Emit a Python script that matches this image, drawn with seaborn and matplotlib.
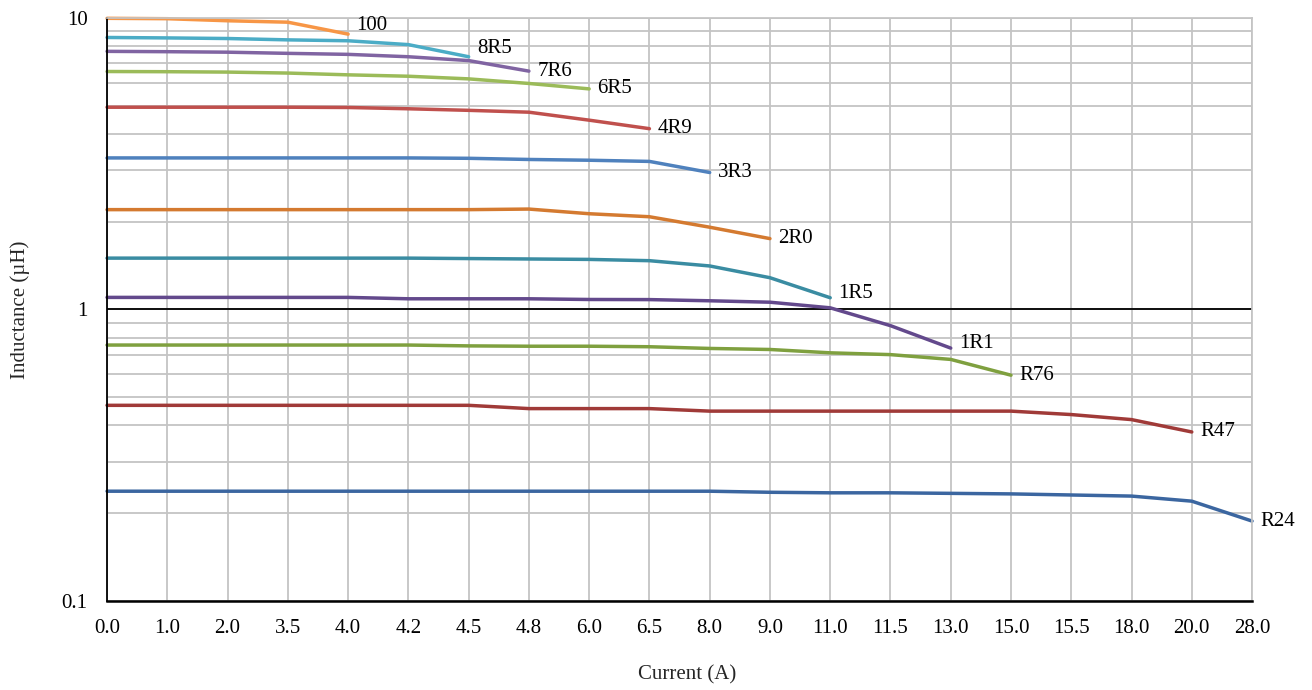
import numpy as np
import pandas as pd
import matplotlib
matplotlib.use('Agg')
import matplotlib.pyplot as plt
from matplotlib.ticker import LogLocator, FixedLocator, NullFormatter
import seaborn as sns

# x axis is categorical (evenly spaced currents)
current = ['0.0', '1.0', '2.0', '3.5', '4.0', '4.2', '4.5', '4.8', '6.0', '6.5',
           '8.0', '9.0', '11.0', '11.5', '13.0', '15.0', '15.5', '18.0', '20.0', '28.0']

# inductance (uH) per part, starting at 0.0 A
L_100 = [9.97, 9.94, 9.78, 9.67, 8.80]
L_8R5 = [8.57, 8.54, 8.50, 8.41, 8.35, 8.10, 7.36]
L_7R6 = [7.68, 7.66, 7.63, 7.56, 7.50, 7.36, 7.14, 6.57]
L_6R5 = [6.55, 6.54, 6.52, 6.47, 6.38, 6.31, 6.18, 5.96, 5.71]
L_4R9 = [4.94, 4.94, 4.94, 4.94, 4.93, 4.88, 4.82, 4.75, 4.46, 4.17]
L_3R3 = [3.31, 3.31, 3.31, 3.31, 3.31, 3.31, 3.30, 3.27, 3.25, 3.22, 2.95]
L_2R0 = [2.20, 2.20, 2.20, 2.20, 2.20, 2.20, 2.20, 2.21, 2.13, 2.08, 1.915, 1.75]
L_1R5 = [1.50, 1.50, 1.50, 1.50, 1.50, 1.50, 1.495, 1.49, 1.485, 1.47, 1.41, 1.285, 1.097]
L_1R1 = [1.10, 1.10, 1.10, 1.10, 1.10, 1.088, 1.088, 1.088, 1.082, 1.081, 1.071, 1.059,
         1.013, 0.88, 0.737]
L_R76 = [0.755, 0.755, 0.755, 0.755, 0.755, 0.755, 0.750, 0.748, 0.748, 0.745, 0.735,
         0.729, 0.710, 0.700, 0.674, 0.595]
L_R47 = [0.469, 0.469, 0.469, 0.469, 0.469, 0.469, 0.469, 0.457, 0.457, 0.457, 0.448,
         0.448, 0.448, 0.448, 0.448, 0.448, 0.436, 0.419, 0.380]
L_R24 = [0.238, 0.238, 0.238, 0.238, 0.238, 0.238, 0.238, 0.238, 0.238, 0.238, 0.238,
         0.236, 0.235, 0.235, 0.234, 0.233, 0.231, 0.229, 0.220, 0.188]

series = {'100': L_100, '8R5': L_8R5, '7R6': L_7R6, '6R5': L_6R5, '4R9': L_4R9,
          '3R3': L_3R3, '2R0': L_2R0, '1R5': L_1R5, '1R1': L_1R1, 'R76': L_R76,
          'R47': L_R47, 'R24': L_R24}

colors = {'100': '#F79646', '8R5': '#4BACC6', '7R6': '#8064A2', '6R5': '#9BBB59',
          '4R9': '#C0504D', '3R3': '#4F81BD', '2R0': '#D47A30', '1R5': '#3A8CA2',
          '1R1': '#63498C', 'R76': '#7FA03F', 'R47': '#A03A38', 'R24': '#3B66A0'}

# label nudges (points) for the end-of-line part names
label_dy = {'100': 6, '8R5': 6, '1R5': 3, '1R1': 3}

rows = []
for part, vals in series.items():
    for i, v in enumerate(vals):
        rows.append({'pos': i, 'L': v, 'part': part})
df = pd.DataFrame(rows)

sns.set_theme(style='white')
plt.rcParams['font.family'] = ['Liberation Serif', 'DejaVu Serif']

fig = plt.figure(figsize=(13.12, 6.9), dpi=100)
ax = fig.add_axes([0.0816, 0.129, 0.8727, 0.845])

sns.lineplot(data=df, x='pos', y='L', hue='part', palette=colors, linewidth=2.5,
             legend=False, estimator=None, sort=False, ax=ax)
for ln in ax.lines:
    ln.set_clip_on(False)
    ln.set_solid_capstyle('round')
    ln.set_solid_joinstyle('round')

ax.set_yscale('log')
ax.set_ylim(0.1, 10)
ax.set_xlim(0, len(current) - 1)

ax.set_xticks(range(len(current)))
ax.set_xticklabels(current)
ax.yaxis.set_major_locator(FixedLocator([0.1, 1, 10]))
ax.set_yticklabels(['0.1', '1', '10'])
ax.yaxis.set_minor_locator(LogLocator(base=10, subs=np.arange(2, 10)))
ax.yaxis.set_minor_formatter(NullFormatter())

ax.grid(which='both', axis='both', color='#C4C4C4', linewidth=1.3, zorder=0)
ax.set_axisbelow(True)
ax.axhline(1, color='black', linewidth=1.3, zorder=1)

ax.spines['left'].set_color('black')
ax.spines['bottom'].set_color('black')
ax.spines['left'].set_linewidth(1.3)
ax.spines['bottom'].set_linewidth(1.8)
ax.spines['top'].set_color('#C4C4C4')
ax.spines['right'].set_color('#C4C4C4')

ax.tick_params(axis='both', which='both', length=0, labelsize=15, colors='black')
ax.tick_params(axis='x', pad=13)
ax.tick_params(axis='y', pad=14)

ax.set_xlabel('Current (A)', fontsize=15)
ax.set_ylabel('Inductance (µH)', fontsize=15)
ax.xaxis.label.set_va('center')
ax.yaxis.label.set_va('center')
ax.xaxis.set_label_coords(0.507, -0.127)
ax.yaxis.set_label_coords(-0.076, 0.5)

for part, vals in series.items():
    ax.annotate(part, xy=(len(vals) - 1, vals[-1]), xytext=(6, label_dy.get(part, 0)),
                textcoords='offset points', ha='left', va='center', fontsize=15,
                color='black', annotation_clip=False)

fig.savefig('out.png', dpi=100)
